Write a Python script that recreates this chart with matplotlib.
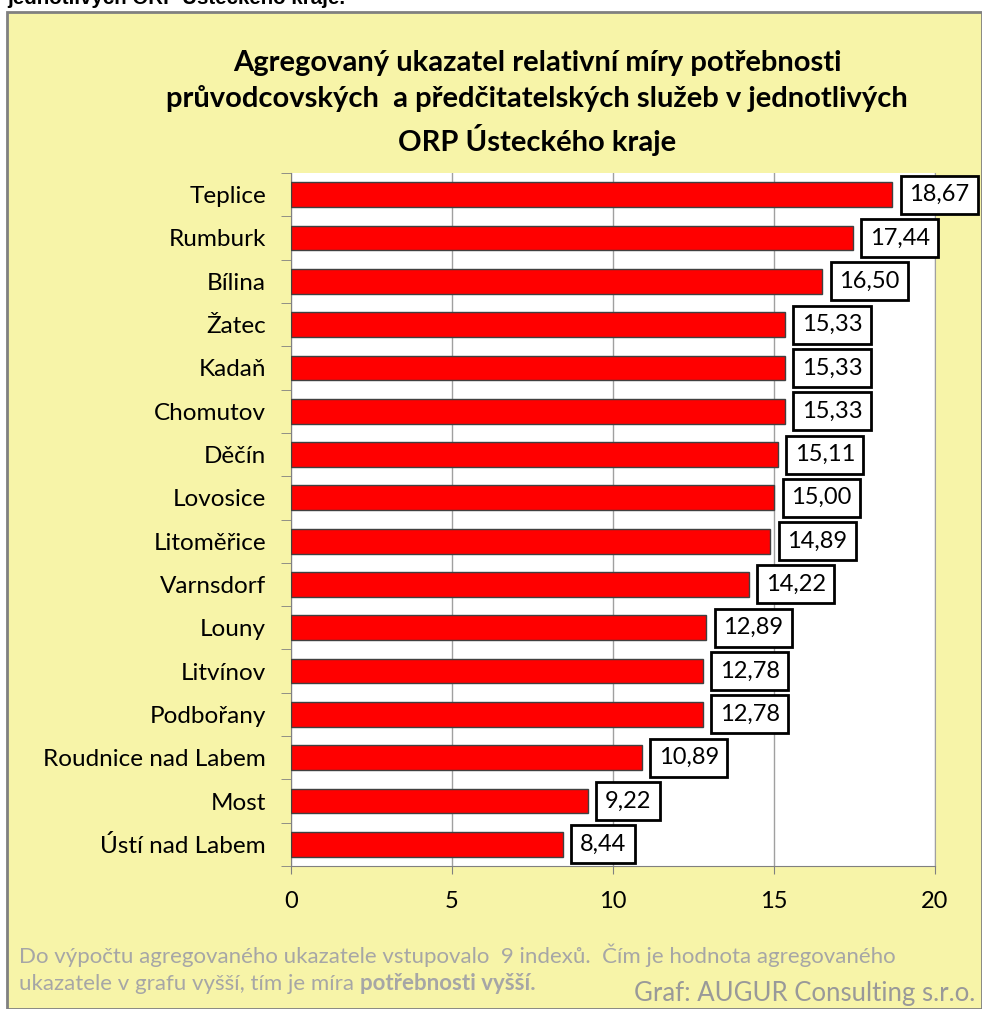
import matplotlib.pyplot as plt
from matplotlib.patches import Rectangle

# data, top to bottom
towns = ['Teplice', 'Rumburk', 'Bílina', 'Žatec', 'Kadaň', 'Chomutov', 'Děčín',
         'Lovosice', 'Litoměřice', 'Varnsdorf', 'Louny', 'Litvínov', 'Podbořany',
         'Roudnice nad Labem', 'Most', 'Ústí nad Labem']
values = [18.67, 17.44, 16.50, 15.33, 15.33, 15.33, 15.11, 15.00, 14.89, 14.22,
          12.89, 12.78, 12.78, 10.89, 9.22, 8.44]
x_ticks = [0, 5, 10, 15, 20]

title = ('Agregovaný ukazatel relativní míry potřebnosti\n'
         'průvodcovských  a předčitatelských služeb v jednotlivých\n'
         'ORP Ústeckého kraje')

W, H = 982, 1009
fig = plt.figure(figsize=(W / 100, H / 100), dpi=100)
fig.patch.set_facecolor('white')

plt.rcParams['font.family'] = ['Lato', 'DejaVu Sans']

# yellow chart box
box = Rectangle((7 / W, 0), 1 - 7 / W, 1 - 12 / H, transform=fig.transFigure,
                facecolor='#F7F4A8', edgecolor='#808080', linewidth=2, zorder=-5)
fig.patches.append(box)

# clipped heading from the page above
fig.text(7 / W, 1 - 4 / H, 'jednotlivých ORP Ústeckého kraje.', fontsize=14.8,
         fontweight='bold', family='Liberation Sans', color='black',
         ha='left', va='baseline')

left, right = 291 / W, 935 / W
top, bottom = 1 - 173 / H, 1 - 866 / H
ax = fig.add_axes([left, bottom, right - left, top - bottom])
ax.set_facecolor('white')

n = len(towns)
ypos = list(range(n))
ax.barh(ypos, values, height=0.57, color='#FF0000', edgecolor='#404040',
        linewidth=1, zorder=3)

for y, v in zip(ypos, values):
    ax.annotate(f'{v:.2f}'.replace('.', ','), xy=(v, y), xytext=(17, 0),
                textcoords='offset pixels', ha='left', va='center', fontsize=17,
                color='black', zorder=5,
                bbox=dict(boxstyle='square,pad=0.36', facecolor='white',
                          edgecolor='black', linewidth=2))

ax.set_xlim(0, 20)
ax.set_ylim(n - 0.5, -0.5)
ax.set_xticks(x_ticks)
ax.set_xticklabels([str(t) for t in x_ticks], fontsize=17)
ax.tick_params(axis='x', length=6, color='#808080', pad=12)
ax.set_yticks(ypos)
ax.set_yticklabels(towns, fontsize=17.5)
ax.tick_params(axis='y', which='major', length=0, pad=18)
ax.set_yticks([i - 0.5 for i in range(n + 1)], minor=True)
ax.tick_params(axis='y', which='minor', length=7, color='#808080')

ax.grid(axis='x', color='#A0A0A0', linewidth=1, zorder=0)
ax.set_axisbelow(True)
ax.spines['top'].set_visible(False)
ax.spines['right'].set_color('#A0A0A0')
ax.spines['left'].set_color('#808080')
ax.spines['bottom'].set_color('#808080')

fig.text(537 / W, 1 - 50 / H, title, fontsize=21, fontweight='bold',
         ha='center', va='top', linespacing=1.42, color='black')

fig.text(19 / W, 1 - 955 / H,
         'Do výpočtu agregovaného ukazatele vstupovalo  9 indexů.  Čím je hodnota agregovaného',
         fontsize=16, color='#A6A6A6', ha='left', va='center')
fig.text(19 / W, 1 - 984 / H, 'ukazatele v grafu vyšší, tím je míra ',
         fontsize=16, color='#A6A6A6', ha='left', va='center')
fig.text(0.993, 1 - 993 / H, 'Graf: AUGUR Consulting s.r.o.', fontsize=18.5,
         color='#999999', ha='right', va='center')

# bold part of the footnote, placed after the regular run
r = fig.canvas.get_renderer()
t = fig.texts[-2]
bb = t.get_window_extent(renderer=r)
fig.text(bb.x1 / W, 1 - 984 / H, 'potřebnosti vyšší.', fontsize=16,
         fontweight='bold', color='#A6A6A6', ha='left', va='center')

fig.savefig('out.png', dpi=100, facecolor='white')
